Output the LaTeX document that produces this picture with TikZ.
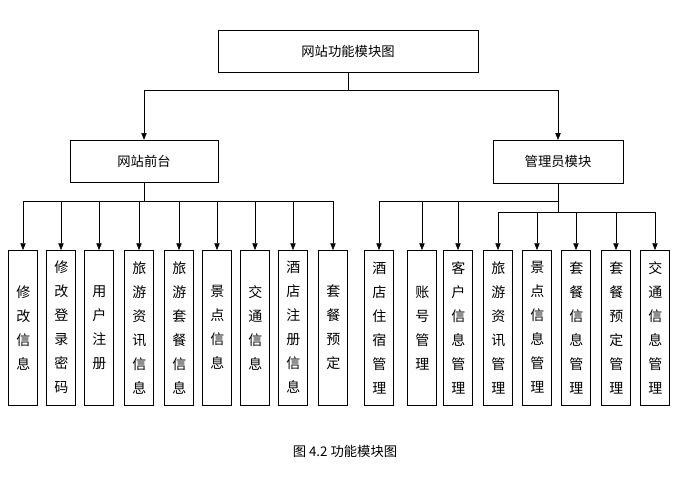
\documentclass[tikz,border=0pt]{standalone}
\usepackage{fontspec}
\setmainfont{Liberation Serif}
\newfontfamily\cjk{Noto Sans CJK SC}
\usetikzlibrary{positioning,arrows.meta}
\begin{document}
\begin{tikzpicture}[x=0.75pt, y=-0.75pt, font=\cjk\fontsize{10}{13}\selectfont,
  box/.style={draw, thin, inner sep=0pt},
  leaf/.style={box, minimum width=22pt, minimum height=116pt, text width=1em, align=center, anchor=north, font=\cjk\fontsize{10.5}{18}\selectfont},
  arr/.style={-{Triangle[length=5pt,width=4pt]}, thin}]
\useasboundingbox (0,0) rectangle (678,489);
\node[box, minimum width=195pt, minimum height=31.5pt] (top) at (348,51) {网站功能模块图};
\node[box, minimum width=111pt, minimum height=31.5pt] (front) at (144,161) {网站前台};
\node[box, minimum width=97.5pt, minimum height=32pt] (admin) at (558,161.5) {管理员模块};
\coordinate (tb) at (348,90);
\draw (top.south) -- (tb);
\draw[arr] (tb) -| (front.north);
\draw[arr] (tb) -| (admin.north);
%front leaves
\foreach \x/\t [count=\i] in {23/修\\改\\信\\息, 61/修\\改\\登\\录\\密\\码, 99/用\\户\\注\\册, 139/旅\\游\\资\\讯\\信\\息, 179/旅\\游\\套\\餐\\信\\息, 217/景\\点\\信\\息, 255/交\\通\\信\\息, 293/酒\\店\\注\\册\\信\\息, 333/套\\餐\\预\\定}{
  \node[leaf] (f\i) at (\x,250) {\t};
  \draw[arr] (front.south) -- ++(0,19) -| (f\i.north);
}
%admin leaves
\foreach \x/\t [count=\i] in {379/酒\\店\\住\\宿\\管\\理, 422/账\\号\\管\\理, 458/客\\户\\信\\息\\管\\理}{
  \node[leaf] (a\i) at (\x,250) {\t};
  \draw[arr] (admin.south) -- ++(0,18.5) -| (a\i.north);
}
\foreach \x/\t [count=\i] in {498/旅\\游\\资\\讯\\管\\理, 537/景\\点\\信\\息\\管\\理, 576/套\\餐\\信\\息\\管\\理, 616/套\\餐\\预\\定\\管\\理, 655/交\\通\\信\\息\\管\\理}{
  \node[leaf] (b\i) at (\x,250) {\t};
  \draw[arr] (admin.south) -- ++(0,29.5) -| (b\i.north);
}
\node (cap) at (345,451) {图 4.2 功能模块图};
\end{tikzpicture}
\end{document}
